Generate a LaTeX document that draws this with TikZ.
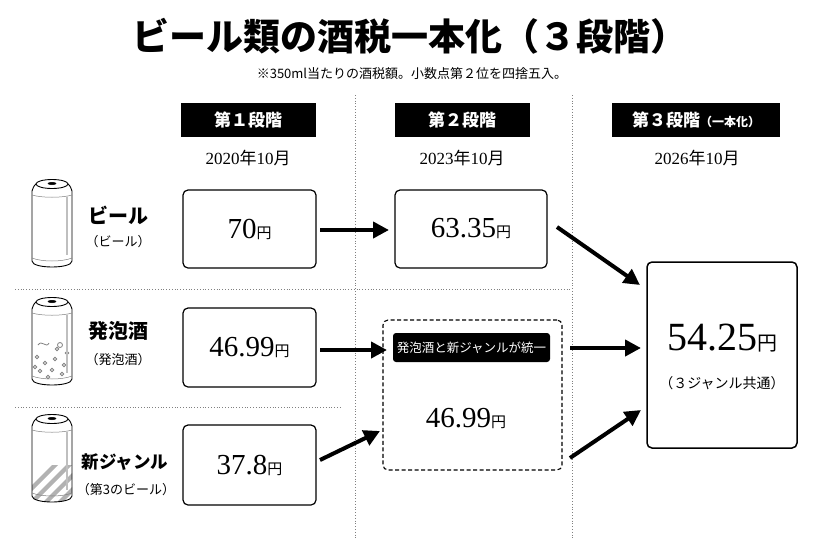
\documentclass[tikz,border=0pt]{standalone}
\usepackage{fontspec}
\setmainfont{Liberation Serif}
\newfontfamily\jp{Noto Sans CJK JP}
\begin{document}
\begin{tikzpicture}[x=1pt,y=-1pt,
  box/.style={draw,line width=1.2pt,rounded corners=5pt},
  hdr/.style={fill=black,text=white,font=\jp\bfseries\fontsize{17}{17}\selectfont,inner sep=0pt},
  date/.style={font=\fontsize{17}{17}\selectfont},
  arr/.style={line width=4pt,-{Triangle[length=16pt,width=16pt]}},
  dots/.style={gray,dotted,line width=0.8pt},
  num/.style={font=\fontsize{29}{29}\selectfont},
  lab/.style={font=\jp\bfseries\fontsize{20}{20}\selectfont},
  sub/.style={font=\jp\fontsize{13}{13}\selectfont}]
\usetikzlibrary{arrows.meta}
\useasboundingbox (0,0) rectangle (820,547);
\newcommand\yen{{\jp\fontsize{15}{15}\selectfont 円}}
\node[font=\jp\bfseries\fontsize{37}{37}\selectfont] (title) at (410,36) {ビール類の酒税一本化（３段階）};
\node[font=\jp\fontsize{13}{13}\selectfont] (note) at (412,74) {※350ml当たりの酒税額。小数点第２位を四捨五入。};
% headers
\node[hdr,minimum width=135pt,minimum height=34pt] (h1) at (248,120) {第１段階};
\node[hdr,minimum width=135pt,minimum height=34pt] (h2) at (462,120) {第２段階};
\node[hdr,minimum width=168pt,minimum height=34pt] (h3) at (696,120) {第３段階{\fontsize{12}{12}\selectfont（一本化）}};
\node[date] (d1) at (248,158) {2020{\jp 年}10{\jp 月}};
\node[date] (d2) at (462,158) {2023{\jp 年}10{\jp 月}};
\node[date] (d3) at (697,158) {2026{\jp 年}10{\jp 月}};
% dividers
\draw[dots] (355,95) -- (355,540);
\draw[dots] (572,95) -- (572,540);
\draw[dots] (15,289) -- (570,289);
\draw[dots] (15,407) -- (340,407);
% boxes
\node[box,minimum width=133pt,minimum height=78pt] (b1) at (249.5,229) {};
\node[box,minimum width=133pt,minimum height=79pt] (b2) at (249.5,347.5) {};
\node[box,minimum width=133pt,minimum height=80pt] (b3) at (249.5,465) {};
\node[num] at (b1) {70\yen};
\node[num] at (b2) {46.99\yen};
\node[num] at (b3) {37.8\yen};
\node[box,minimum width=152pt,minimum height=78pt] (c1) at (471,229) {};
\node[num] at (c1) {63.35\yen};
\node[box,dash pattern=on 4pt off 2.5pt,line width=1.1pt,minimum width=179pt,minimum height=150pt] (c2) at (472.5,395) {};
\node[fill=black,rounded corners=3pt,text=white,font=\jp\fontsize{12.5}{12.5}\selectfont,minimum width=157pt,minimum height=29pt,inner sep=0pt] (tag) at (471.5,347.5) {発泡酒と新ジャンルが統一};
\node[num] (c2n) at (466,418) {46.99\yen};
\node[box,line width=1.5pt,minimum width=150pt,minimum height=186pt] (f) at (722,355) {};
\node[font=\fontsize{40}{40}\selectfont] (fn) at (722,338) {54.25{\jp\fontsize{20}{20}\selectfont 円}};
\node[font=\jp\fontsize{14}{14}\selectfont] (fs) at (722,383) {（３ジャンル共通）};
% arrows
\coordinate (a1s) at (320,230); \coordinate (a1e) at (389,230);
\draw[arr] (a1s) -- (a1e);
\coordinate (a2s) at (557,227); \coordinate (a2e) at (640,285);
\draw[arr] (a2s) -- (a2e);
\coordinate (a3s) at (320,350); \coordinate (a3e) at (387,350);
\draw[arr] (a3s) -- (a3e);
\coordinate (a4s) at (320,460); \coordinate (a4e) at (380,431);
\draw[arr] (a4s) -- (a4e);
\coordinate (a5s) at (570,348); \coordinate (a5e) at (641,348);
\draw[arr] (a5s) -- (a5e);
\coordinate (a6s) at (570,458); \coordinate (a6e) at (641,410);
\draw[arr] (a6s) -- (a6e);
% labels
\node[lab] (l1) at (118,215) {ビール};
\node[sub] (s1) at (118,242) {（ビール）};
\node[lab] (l2) at (118,331) {発泡酒};
\node[sub] (s2) at (118,360) {（発泡酒）};
\node[lab,font=\jp\bfseries\fontsize{17.5}{17.5}\selectfont] (l3) at (125,462) {新ジャンル};
\node[sub] (s3) at (126,490) {（第3のビール）};
% cans
\foreach \cy/\k in {225/1,343/2,460/3}{
  \begin{scope}[shift={(52,\cy)}]
    \path[clip] (-20,-34) -- (-20,36) .. controls (-20,44) and (20,44) .. (20,36) -- (20,-34) .. controls (18,-40) and (-18,-40) .. (-20,-34);
    \ifnum\k=2
      \foreach \bx/\by in {-15/14,-7/20,3/16,12/22,-12/28,0/27,10/31,-4/34,15/10,5/6,-17/24}
        \draw[gray,line width=0.8pt] (\bx,\by) circle (1.8);
      \draw[gray,line width=0.8pt] (-14,2) .. controls (-10,-4) and (-6,6) .. (-3,0);
      \draw[gray,line width=0.8pt] (8,2) circle (2.5);
    \fi
    \ifnum\k=3
      \foreach \s in {-40,-26,...,20}
        \fill[gray!60] (\s,45) -- (\s+6,45) -- (\s+46,5) -- (\s+40,5) -- cycle;
    \fi
  \end{scope}
  \begin{scope}[shift={(52,\cy)}]
    \draw[line width=0.9pt] (-20,-34) -- (-20,36) .. controls (-20,44) and (20,44) .. (20,36) -- (20,-34);
    \draw[line width=0.9pt] (-20,-34) .. controls (-18,-40) and (-17,-40) .. (-16,-41);
    \draw[line width=0.9pt] (20,-34) .. controls (18,-40) and (17,-40) .. (16,-41);
    \draw[line width=0.9pt,fill=white] (0,-41) ellipse (16 and 4.5);
    \draw[fill=black] (0,-41.5) ellipse (4 and 1.3);
    \draw[gray,line width=0.5pt] (-20,-30) .. controls (-10,-27) and (10,-27) .. (20,-30);
    \draw[gray,line width=0.5pt] (-20,33) .. controls (-10,37) and (10,37) .. (20,33);
    \draw[gray!50,line width=2pt] (15,-28) -- (15,30);
  \end{scope}
}
\end{tikzpicture}
\end{document}
